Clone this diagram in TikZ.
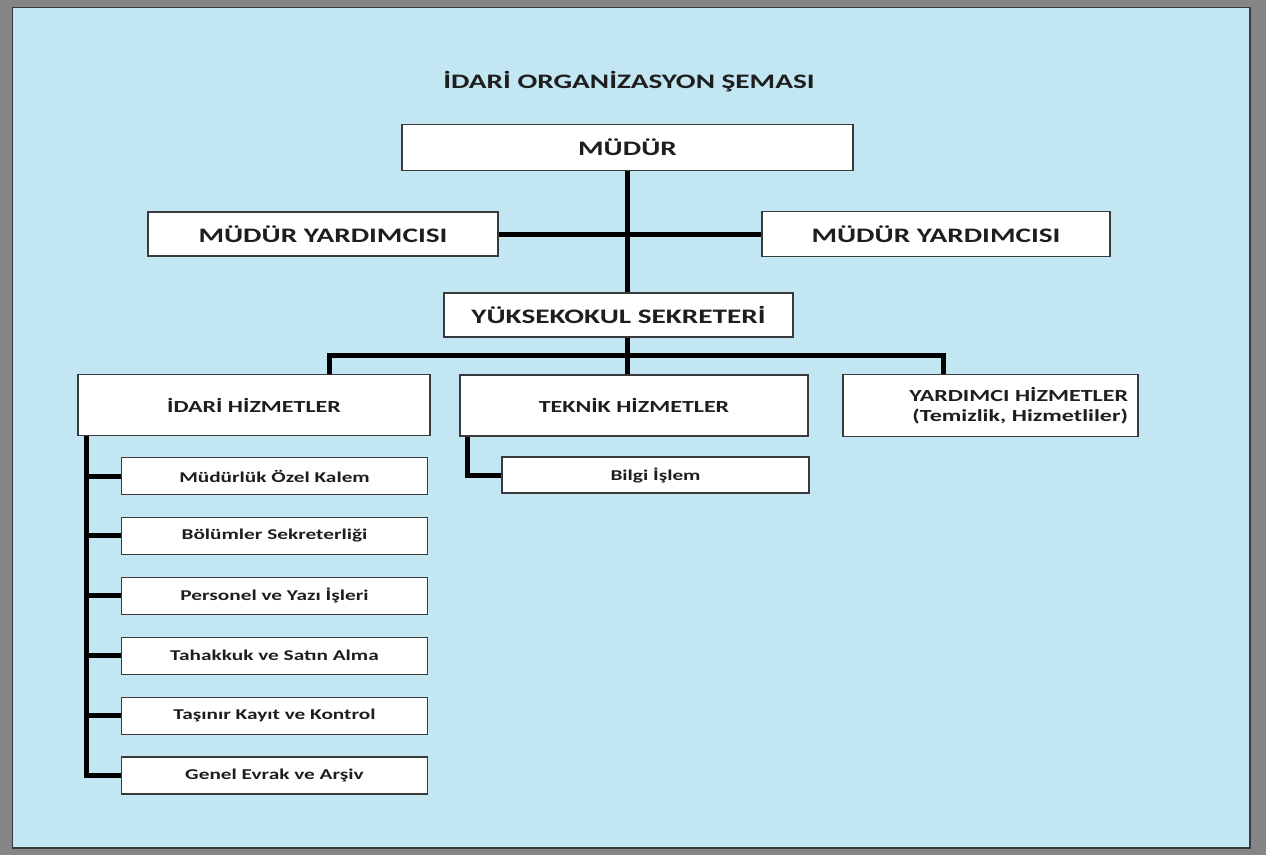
\documentclass[tikz,border=0pt]{standalone}
\usepackage{fontspec}
\newfontfamily\orgfont{Carlito}[FakeStretch=1.42]
\definecolor{frame}{HTML}{858585}
\definecolor{sheet}{HTML}{C2E6F2}
\definecolor{boxline}{HTML}{3A3A3A}
\definecolor{txt}{HTML}{1E1E1E}
\begin{document}
\begin{tikzpicture}[
  x=1pt, y=-1pt,
  line join=miter,
  every node/.style={text=txt, inner sep=0pt},
  box/.style={draw=boxline, fill=white, line width=1.2pt, rectangle},
  big/.style={box, font=\orgfont\bfseries\fontsize{20.6}{24}\selectfont},
  mid/.style={box, font=\orgfont\bfseries\fontsize{16.9}{20.3}\selectfont},
  small/.style={box, font=\orgfont\bfseries\fontsize{15}{18}\selectfont,
    minimum width=306pt, minimum height=37pt},
  link/.style={draw=black, line width=5pt},
]
% frame and sheet
\fill[frame] (0,0) rectangle (1266,855);
\draw[fill=sheet, draw=boxline, line width=1.5pt] (12.5,7.5) rectangle (1250,848);
\useasboundingbox (0,0) rectangle (1266,855);

\node[font=\orgfont\bfseries\fontsize{20.6}{24}\selectfont] (title) at (629,82) {İDARİ ORGANİZASYON ŞEMASI};

\node[big, minimum width=451pt, minimum height=46pt] (mudur) at (627.5,147.5) {MÜDÜR};
\node[big, minimum width=350pt, minimum height=44pt] (yrdL) at (323,234) {MÜDÜR YARDIMCISI};
\node[big, minimum width=348pt, minimum height=45pt] (yrdR) at (936,234) {MÜDÜR YARDIMCISI};
\node[big, minimum width=349pt, minimum height=44pt] (sekreter) at (618.5,315) {YÜKSEKOKUL SEKRETERİ};

\node[mid, minimum width=352pt, minimum height=61pt] (idari) at (254,405) {İDARİ HİZMETLER};
\node[mid, minimum width=348pt, minimum height=61pt] (teknik) at (634,405.5) {TEKNİK HİZMETLER};
\node[mid, minimum width=295pt, minimum height=62pt, text width=275pt, align=right]
  (yardimci) at (990.5,405.5) {YARDIMCI HİZMETLER\\(Temizlik, Hizmetliler)};

\node[small, minimum width=307pt, minimum height=36pt] (bilgi) at (655.5,475) {Bilgi İşlem};

\foreach \name [count=\i] in {Müdürlük Özel Kalem, Bölümler Sekreterliği,
    Personel ve Yazı İşleri, Tahakkuk ve Satın Alma,
    Taşınır Kayıt ve Kontrol, Genel Evrak ve Arşiv}
  \node[small] (sub\i) at (274.5,{476+59.9*(\i-1)}) {\name};

% connectors
\coordinate (busL) at (329,355.5);
\coordinate (busR) at (943,355.5);
\draw[link] (mudur.south) -- (mudur.south |- sekreter.north);
\draw[link] (yrdL.east) -- (yrdR.west);
\draw[link] (sekreter.south -| mudur.south) -- (mudur.south |- teknik.north);
\draw[link] (busL |- idari.north) -- (busL) -- (busR) -- (busR |- yardimci.north);
\draw[link] ([xshift=8pt]teknik.south west) |- (bilgi.west);
\coordinate (spine) at ([xshift=9pt]idari.south west);
\draw[link] (spine) |- (sub6.west);
\foreach \i in {1,...,5}
  \draw[link] (spine |- sub\i.west) -- (sub\i.west);
\end{tikzpicture}
\end{document}
